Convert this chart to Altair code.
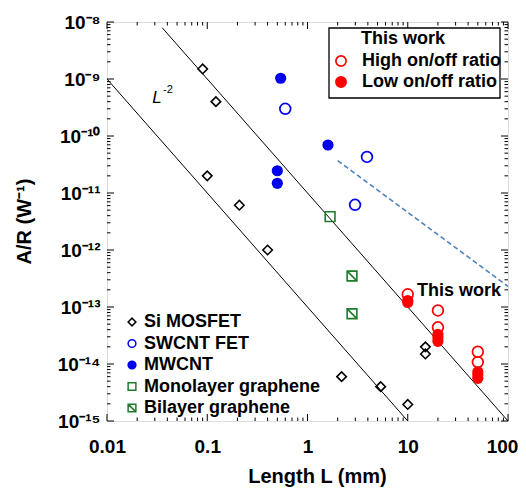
import altair as alt
import pandas as pd

# ---------------- data ----------------
si_L = [0.09, 0.122, 0.1, 0.209, 0.4, 2.19, 5.37, 10.0, 15.0, 15.0]
si_AR = [1.5e-9, 4.0e-10, 2.0e-11, 6.1e-12, 1.0e-12, 6.0e-15, 4.0e-15, 1.95e-15, 2.0e-14, 1.5e-14]

swcnt_L = [0.6, 3.92, 2.98]
swcnt_AR = [3.0e-10, 4.3e-11, 6.2e-12]

mwcnt_L = [0.54, 1.6, 0.5, 0.5]
mwcnt_AR = [1.03e-9, 6.95e-11, 2.46e-11, 1.48e-11]

mono_L = [1.68]
mono_AR = [3.85e-12]

bi_L = [2.78, 2.78]
bi_AR = [3.5e-13, 7.6e-14]

high_L = [10, 20, 20, 50, 50]
high_AR = [1.67e-13, 8.7e-14, 4.4e-14, 1.64e-14, 1.08e-14]

low_L = [10, 10, 20, 20, 20, 50, 50, 50]
low_AR = [1.3e-13, 1.2e-13, 3.3e-14, 2.9e-14, 2.5e-14, 7.3e-15, 6.4e-15, 5.6e-15]

fit1_L = [0.0356, 100]
fit1_AR = [7.9e-9, 1e-15]
fit2_L = [0.01, 10]
fit2_AR = [1e-9, 1e-15]
dash_L = [2.0, 100]
dash_AR = [3.7e-11, 2.3e-13]

x_major = [0.01, 0.1, 1, 10, 100]
y_exponents = [-15, -14, -13, -12, -11, -10, -9, -8]

legend1_labels = ["Si MOSFET", "SWCNT FET", "MWCNT", "Monolayer graphene", "Bilayer graphene"]
legend2_title = "This work"
legend2_labels = ["High on/off ratio", "Low on/off ratio"]

# ---------------- styling ----------------
W, H = 401, 399
FONT = "Liberation Sans"
BLUE = "#0000ee"
GREEN = "#1e7b2e"
RED = "#ff0000"
DASH = "#4f81bd"
BI_SHAPE = "M-1,-1L1,-1L1,1L-1,1Z M-1,-1L1,1"

SUP = str.maketrans("-0123456789", "⁻⁰¹²³⁴⁵⁶⁷⁸⁹")


def sup(s):
    return str(s).translate(SUP)


y_major = [10.0 ** e for e in y_exponents]
x_minor = [k * v for v in x_major[:-1] for k in range(2, 10)]
y_minor = [k * v for v in y_major[:-1] for k in range(2, 10)]

# label expression for y axis with superscript exponents
expr = "'10" + sup(y_exponents[-1]) + "'"
for e in reversed(y_exponents[:-1]):
    expr = f"datum.value < {3 * 10.0 ** e:g} ? '10{sup(e)}' : " + expr

x_scale = alt.Scale(type="log", domain=[0.01, 100], nice=False)
y_scale = alt.Scale(type="log", domain=[1e-15, 1e-8], nice=False)

x_axis = alt.Axis(
    values=x_major, format="~g", title="Length L (mm)", grid=False, ticks=False, domain=False,
    labelFont=FONT, labelFontSize=19, labelFontWeight="bold", labelColor="black", labelPadding=16,
    labelFlush=False, labelOverlap=False,
    labelOffset={"condition": {"test": "datum.value >= 50", "value": -6}, "value": 0},
    titleFont=FONT, titleFontSize=20, titleFontWeight="bold", titleColor="black",
    titleX=210, titleY=55, titleBaseline="middle", titleAlign="center",
)
y_axis = alt.Axis(
    values=y_major, labelExpr=expr, title="A/R (W" + sup(-1) + ")", grid=False, ticks=False,
    domain=False, labelFont=FONT, labelFontSize=19, labelFontWeight="bold", labelColor="black",
    labelPadding=7, labelFlush=False, labelOverlap=False,
    titleFont=FONT, titleFontSize=20, titleFontWeight="bold", titleColor="black",
    titleX=-83, titleY=199, titleAngle=270, titleBaseline="middle", titleAlign="center",
)


def X(field="L"):
    return alt.X(f"{field}:Q", scale=x_scale, axis=x_axis)


def Y(field="AR"):
    return alt.Y(f"{field}:Q", scale=y_scale, axis=y_axis)


def frame(L, AR):
    return pd.DataFrame({"L": L, "AR": AR})


layers = []

# fit lines
layers.append(alt.Chart(frame(fit1_L, fit1_AR)).mark_line(color="black", strokeWidth=1).encode(x=X(), y=Y()))
layers.append(alt.Chart(frame(fit2_L, fit2_AR)).mark_line(color="black", strokeWidth=1).encode(x=X(), y=Y()))
layers.append(alt.Chart(frame(dash_L, dash_AR)).mark_line(color=DASH, strokeWidth=1.6, strokeDash=[5, 3]).encode(x=X(), y=Y()))

# ticks (inward) drawn through the scales
def xticks(vals, length):
    d = pd.DataFrame({"t": vals})
    top = alt.Chart(d).mark_rule(color="black", strokeWidth=1).encode(x=X("t"), y=alt.value(0), y2=alt.value(length))
    bot = alt.Chart(d).mark_rule(color="black", strokeWidth=1).encode(x=X("t"), y=alt.value(H), y2=alt.value(H - length))
    return [top, bot]


def yticks(vals, length):
    d = pd.DataFrame({"t": vals})
    left = alt.Chart(d).mark_rule(color="black", strokeWidth=1).encode(y=Y("t"), x=alt.value(0), x2=alt.value(length))
    right = alt.Chart(d).mark_rule(color="black", strokeWidth=1).encode(y=Y("t"), x=alt.value(W), x2=alt.value(W - length))
    return [left, right]


layers += xticks(x_major, 7) + xticks(x_minor, 3.5) + yticks(y_major, 7) + yticks(y_minor, 3.5)

# data markers
layers.append(alt.Chart(frame(si_L, si_AR)).mark_point(shape="diamond", size=90, filled=False, color="black", strokeWidth=1.6, opacity=1).encode(x=X(), y=Y()))
layers.append(alt.Chart(frame(swcnt_L, swcnt_AR)).mark_point(shape="circle", size=115, filled=False, color=BLUE, strokeWidth=1.7, opacity=1).encode(x=X(), y=Y()))
layers.append(alt.Chart(frame(mwcnt_L, mwcnt_AR)).mark_point(shape="circle", size=125, filled=True, color=BLUE, opacity=1).encode(x=X(), y=Y()))
layers.append(alt.Chart(frame(mono_L, mono_AR)).mark_point(shape="square", size=95, filled=False, color=GREEN, strokeWidth=1.6, opacity=1).encode(x=X(), y=Y()))
layers.append(alt.Chart(frame(bi_L, bi_AR)).mark_point(shape=BI_SHAPE, size=95, filled=False, color=GREEN, strokeWidth=1.6, opacity=1).encode(x=X(), y=Y()))
layers.append(alt.Chart(frame(high_L, high_AR)).mark_point(shape="circle", size=115, filled=False, color=RED, strokeWidth=1.7, opacity=1).encode(x=X(), y=Y()))
layers.append(alt.Chart(frame(low_L, low_AR)).mark_point(shape="circle", size=125, filled=True, color=RED, opacity=1).encode(x=X(), y=Y()))

# annotations in data coordinates
layers.append(alt.Chart(frame([0.0316], [4.6e-10])).mark_text(text="L", font=FONT, fontSize=17, fontStyle="italic", color="black", align="center", baseline="middle").encode(x=X(), y=Y()))
layers.append(alt.Chart(frame([0.0405], [6.3e-10])).mark_text(text="-2", font=FONT, fontSize=11, color="black", align="center", baseline="middle").encode(x=X(), y=Y()))
layers.append(alt.Chart(frame([12.4], [1.9e-13])).mark_text(text="This work", font=FONT, fontSize=18, fontWeight="bold", color="black", align="left", baseline="middle").encode(x=X(), y=Y()))

# legend 1 (bottom left)
lg1 = pd.DataFrame({
    "label": legend1_labels,
    "i": list(range(len(legend1_labels))),
    "shape": ["diamond", "circle", "circle", "square", BI_SHAPE],
    "stroke": ["black", BLUE, BLUE, GREEN, GREEN],
    "fill": ["transparent", "transparent", BLUE, "transparent", "transparent"],
})
lg1_base = alt.Chart(lg1).transform_calculate(yy="300 + datum.i * 21.5")
layers.append(lg1_base.mark_point(size=60, strokeWidth=1.5, opacity=1).encode(
    x=alt.value(25), y=alt.Y("yy:Q", scale=None),
    shape=alt.Shape("shape:N", scale=None), stroke=alt.Stroke("stroke:N", scale=None),
    fill=alt.Fill("fill:N", scale=None)))
layers.append(lg1_base.mark_text(font=FONT, fontSize=18, fontWeight="bold", color="black", align="left", baseline="middle").encode(
    x=alt.value(37), y=alt.Y("yy:Q", scale=None), text="label:N"))

# legend 2 (top right, boxed)
layers.append(alt.Chart(pd.DataFrame({"a": [0]})).mark_rect(fill="white", stroke="black", strokeWidth=1.3).encode(
    x=alt.value(222), x2=alt.value(393), y=alt.value(6), y2=alt.value(76)))
layers.append(alt.Chart(pd.DataFrame({"t": [legend2_title]})).mark_text(font=FONT, fontSize=18, fontWeight="bold", color="black", align="center", baseline="middle").encode(
    x=alt.value(296), y=alt.value(17), text="t:N"))
lg2 = pd.DataFrame({"label": legend2_labels, "i": [0, 1], "fill": ["white", RED]})
lg2_base = alt.Chart(lg2).transform_calculate(yy="39 + datum.i * 21")
layers.append(lg2_base.mark_point(shape="circle", size=105, stroke=RED, strokeWidth=1.7, opacity=1).encode(
    x=alt.value(234), y=alt.Y("yy:Q", scale=None), fill=alt.Fill("fill:N", scale=None)))
layers.append(lg2_base.mark_text(font=FONT, fontSize=18, fontWeight="bold", color="black", align="left", baseline="middle").encode(
    x=alt.value(255), y=alt.Y("yy:Q", scale=None), text="label:N"))

chart = alt.layer(*layers).properties(
    width=W, height=H,
    autosize=alt.AutoSizeParams(type="none"),
    padding={"left": 99, "top": 14, "right": 10, "bottom": 68},
).configure_view(stroke="black", strokeWidth=1.3).configure(background="white")

chart.save("out.html", embed_options={"renderer": "svg", "actions": False})
